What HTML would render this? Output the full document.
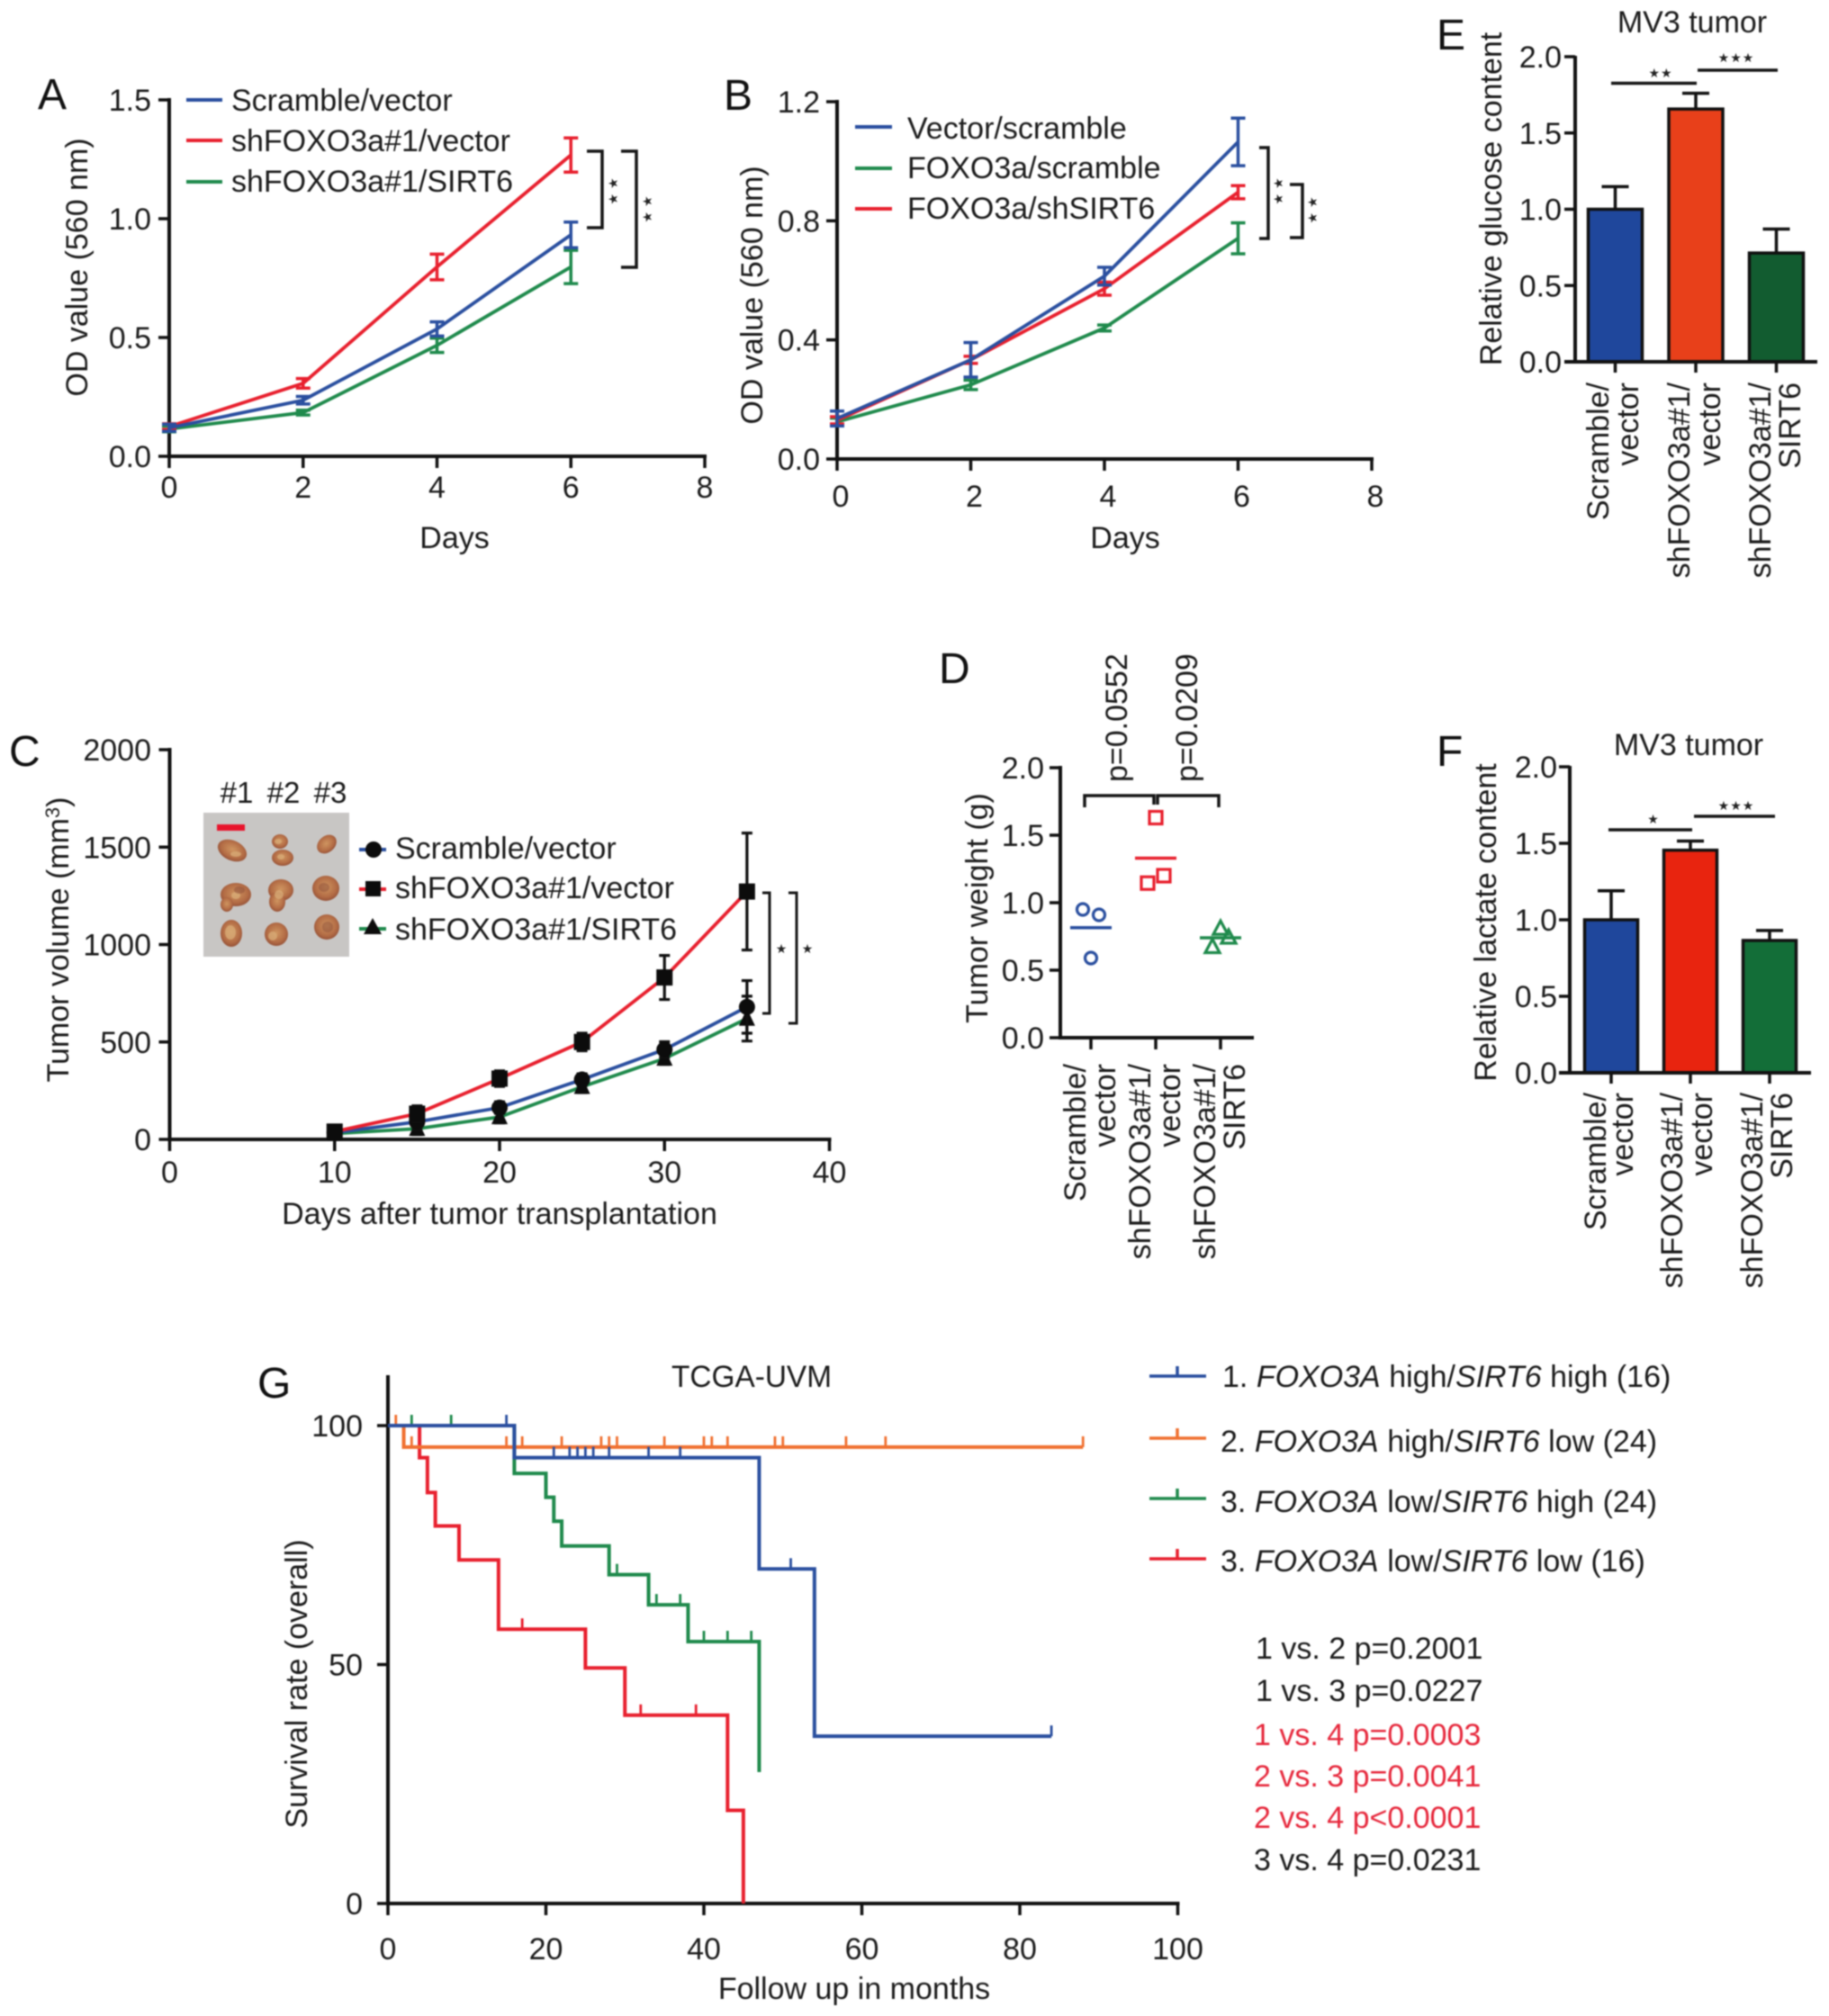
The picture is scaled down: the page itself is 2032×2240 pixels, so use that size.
<!DOCTYPE html>
<html lang="en">
<head>
<meta charset="utf-8">
<title>Tumor growth and survival figure</title>
<style>
html,body{margin:0;padding:0;background:#fff;}
svg{display:block;filter:blur(0.8px);}
text{font-family:"Liberation Sans",sans-serif;font-size:34px;fill:#1c1c1c;}
.panel{font-size:48px;fill:#111;}
.star{font-family:"DejaVu Sans","Liberation Sans",sans-serif;font-size:14px;fill:#222;}
.wide{letter-spacing:5px;}
.tight{letter-spacing:1px;}
.bk{fill:none;stroke:#151515;stroke-width:3.5;}
.rd{fill:#e6283c;}
</style>
</head>
<body>
<svg id="figure" xmlns="http://www.w3.org/2000/svg" width="2032" height="2240" viewBox="0 0 2032 2240">
<defs>
<radialGradient id="tumorFill" cx="50%" cy="45%" r="60%">
<stop offset="0%" stop-color="#cf9560"/>
<stop offset="65%" stop-color="#b36c45"/>
<stop offset="100%" stop-color="#8e4b35"/>
</radialGradient>
</defs>
<rect width="2032" height="2240" fill="#fff"/>

<!-- Panel A static -->
<text class="panel" x="42" y="121">A</text>
<text transform="translate(97,297) rotate(-90)" text-anchor="middle">OD value (560 nm)</text>
<text x="505" y="609" text-anchor="middle">Days</text>
<line x1="207" x2="247" y1="111" y2="111" stroke="#2a4f9f" stroke-width="4"/>
<line x1="207" x2="247" y1="156" y2="156" stroke="#e8202e" stroke-width="4"/>
<line x1="207" x2="247" y1="202" y2="202" stroke="#1f8a4c" stroke-width="4"/>
<text x="257" y="123">Scramble/vector</text>
<text x="257" y="168">shFOXO3a#1/vector</text>
<text x="257" y="213">shFOXO3a#1/SIRT6</text>
<path class="bk" d="M652 168H669V253H652"/>
<path class="bk" d="M690 168H707V297H690"/>
<text class="star wide" transform="translate(686,210) rotate(-90)" text-anchor="middle">★★</text>
<text class="star wide" transform="translate(724,230) rotate(-90)" text-anchor="middle">★★</text>

<!-- Panel B static -->
<text class="panel" x="804" y="122">B</text>
<text transform="translate(847,328) rotate(-90)" text-anchor="middle">OD value (560 nm)</text>
<text x="1250" y="609" text-anchor="middle">Days</text>
<line x1="950" x2="991" y1="141" y2="141" stroke="#2a4f9f" stroke-width="4"/>
<line x1="950" x2="991" y1="187" y2="187" stroke="#1f8a4c" stroke-width="4"/>
<line x1="950" x2="991" y1="232" y2="232" stroke="#e8202e" stroke-width="4"/>
<text x="1008" y="154">Vector/scramble</text>
<text x="1008" y="198">FOXO3a/scramble</text>
<text x="1008" y="243">FOXO3a/shSIRT6</text>
<path class="bk" d="M1399 164H1409V265H1399"/>
<path class="bk" d="M1433 205H1447V264H1433"/>
<text class="star wide" transform="translate(1425,210) rotate(-90)" text-anchor="middle">★★</text>
<text class="star wide" transform="translate(1463,231) rotate(-90)" text-anchor="middle">★★</text>

<!-- Panel C static -->
<text class="panel" x="10" y="851">C</text>
<text transform="translate(76,1044) rotate(-90)" text-anchor="middle">Tumor volume (mm<tspan dy="-10" font-size="22">3</tspan><tspan dy="10">)</tspan></text>
<text x="555" y="1360" text-anchor="middle">Days after tumor transplantation</text>
<g>
<rect x="226" y="903" width="162" height="160" fill="#c8c6c4"/>
<rect x="241" y="916" width="31" height="7" fill="#e8142c"/>
<g fill="url(#tumorFill)">
<ellipse cx="258" cy="945" rx="17" ry="11" transform="rotate(25 258 945)"/>
<ellipse cx="311" cy="935" rx="9" ry="8"/>
<ellipse cx="314" cy="953" rx="12" ry="9"/>
<ellipse cx="363" cy="938" rx="12" ry="9" transform="rotate(-40 363 938)"/>
<ellipse cx="262" cy="994" rx="17" ry="13"/>
<ellipse cx="252" cy="1005" rx="7" ry="8"/>
<ellipse cx="312" cy="989" rx="14" ry="12"/>
<ellipse cx="308" cy="1002" rx="9" ry="11"/>
<ellipse cx="362" cy="987" rx="15" ry="14"/>
<ellipse cx="257" cy="1037" rx="12" ry="15"/>
<ellipse cx="307" cy="1038" rx="13" ry="13"/>
<ellipse cx="363" cy="1030" rx="14" ry="14"/>
</g>
<g fill="#d9ad78" opacity="0.75">
<ellipse cx="262" cy="949" rx="6" ry="3"/>
<ellipse cx="309" cy="935" rx="4" ry="3"/>
<ellipse cx="312" cy="952" rx="4" ry="3"/>
<ellipse cx="262" cy="995" rx="5" ry="4"/>
<ellipse cx="310" cy="994" rx="5" ry="5"/>
<ellipse cx="256" cy="1036" rx="6" ry="8"/>
<ellipse cx="303" cy="1040" rx="5" ry="5"/>
</g>
<g fill="#8e4f3a" opacity="0.5">
<ellipse cx="360" cy="986" rx="6" ry="5"/>
<ellipse cx="364" cy="1030" rx="6" ry="6"/>
<ellipse cx="266" cy="989" rx="6" ry="4"/>
</g>
</g>
<text x="263" y="892" text-anchor="middle" style="font-size:33px">#1</text>
<text x="315" y="892" text-anchor="middle" style="font-size:33px">#2</text>
<text x="367" y="892" text-anchor="middle" style="font-size:33px">#3</text>
<line x1="399" x2="429" y1="944" y2="944" stroke="#2a4f9f" stroke-width="4"/>
<circle cx="415" cy="944" r="9" fill="#0c0c0c"/>
<line x1="399" x2="429" y1="988" y2="988" stroke="#e8202e" stroke-width="4"/>
<rect x="406" y="979" width="17" height="17" fill="#0c0c0c"/>
<line x1="399" x2="429" y1="1032" y2="1032" stroke="#1f8a4c" stroke-width="4"/>
<polygon points="414,1020 424,1038 404,1038" fill="#0c0c0c"/>
<text x="439" y="954">Scramble/vector</text>
<text x="439" y="998">shFOXO3a#1/vector</text>
<text x="439" y="1044">shFOXO3a#1/SIRT6</text>
<path class="bk" style="stroke-width:3" d="M847 992H855V1126H847"/>
<path class="bk" style="stroke-width:3" d="M876 992H885V1137H876"/>
<text class="star" x="868" y="1059" text-anchor="middle">★</text>
<text class="star" x="897" y="1059" text-anchor="middle">★</text>

<!-- Panel D static -->
<text class="panel" x="1043" y="759">D</text>
<text transform="translate(1097,1009) rotate(-90)" text-anchor="middle">Tumor weight (g)</text>
<text transform="translate(1252,869) rotate(-90)">p=0.0552</text>
<text transform="translate(1330,869) rotate(-90)">p=0.0209</text>
<path class="bk" d="M1205 897V884H1282V894"/>
<path class="bk" d="M1286 894V884H1354V897"/>
<g>
<text transform="translate(1206,1182) rotate(-90)" text-anchor="end">Scramble/</text>
<text transform="translate(1239,1182) rotate(-90)" text-anchor="end">vector</text>
<text transform="translate(1278,1182) rotate(-90)" text-anchor="end">shFOXO3a#1/</text>
<text transform="translate(1311,1182) rotate(-90)" text-anchor="end">vector</text>
<text transform="translate(1350,1182) rotate(-90)" text-anchor="end">shFOXO3a#1/</text>
<text transform="translate(1383,1182) rotate(-90)" text-anchor="end">SIRT6</text>
</g>

<!-- Panel E static -->
<text class="panel" x="1596" y="55">E</text>
<text x="1880" y="36" text-anchor="middle">MV3 tumor</text>
<text transform="translate(1668,221) rotate(-90)" text-anchor="middle">Relative glucose content</text>
<line x1="1790" x2="1885" y1="92.5" y2="92.5" stroke="#151515" stroke-width="3.5"/>
<line x1="1886" x2="1975" y1="78" y2="78" stroke="#151515" stroke-width="3.5"/>
<text class="star tight" x="1845" y="86" text-anchor="middle">★★</text>
<text class="star tight" x="1929" y="69" text-anchor="middle">★★★</text>
<g>
<text transform="translate(1787,425) rotate(-90)" text-anchor="end">Scramble/</text>
<text transform="translate(1820,425) rotate(-90)" text-anchor="end">vector</text>
<text transform="translate(1877,425) rotate(-90)" text-anchor="end">shFOXO3a#1/</text>
<text transform="translate(1911,425) rotate(-90)" text-anchor="end">vector</text>
<text transform="translate(1967,425) rotate(-90)" text-anchor="end">shFOXO3a#1/</text>
<text transform="translate(2000,425) rotate(-90)" text-anchor="end">SIRT6</text>
</g>

<!-- Panel F static -->
<text class="panel" x="1596" y="851">F</text>
<text x="1876" y="839" text-anchor="middle">MV3 tumor</text>
<text transform="translate(1662,1025) rotate(-90)" text-anchor="middle">Relative lactate content</text>
<line x1="1787" x2="1880" y1="922" y2="922" stroke="#151515" stroke-width="3.5"/>
<line x1="1882" x2="1972" y1="907" y2="907" stroke="#151515" stroke-width="3.5"/>
<text class="star tight" x="1837" y="915" text-anchor="middle">★</text>
<text class="star tight" x="1929" y="900" text-anchor="middle">★★★</text>
<g>
<text transform="translate(1784,1214) rotate(-90)" text-anchor="end">Scramble/</text>
<text transform="translate(1814,1214) rotate(-90)" text-anchor="end">vector</text>
<text transform="translate(1869,1214) rotate(-90)" text-anchor="end">shFOXO3a#1/</text>
<text transform="translate(1902,1214) rotate(-90)" text-anchor="end">vector</text>
<text transform="translate(1958,1214) rotate(-90)" text-anchor="end">shFOXO3a#1/</text>
<text transform="translate(1991,1214) rotate(-90)" text-anchor="end">SIRT6</text>
</g>

<!-- Panel G static -->
<text class="panel" x="286" y="1553">G</text>
<text x="835" y="1541" text-anchor="middle" textLength="178" lengthAdjust="spacingAndGlyphs">TCGA-UVM</text>
<text transform="translate(341,1871) rotate(-90)" text-anchor="middle">Survival rate (overall)</text>
<text x="949" y="2221" text-anchor="middle">Follow up in months</text>
<g>
<path d="M1277 1529H1340M1308 1529V1518" fill="none" stroke="#2a4f9f" stroke-width="3.5"/>
<text x="1358" y="1541">1. <tspan font-style="italic">FOXO3A</tspan> high/<tspan font-style="italic">SIRT6</tspan> high (16)</text>
</g>
<g>
<path d="M1277 1598H1340M1308 1598V1587" fill="none" stroke="#f07030" stroke-width="3.5"/>
<text x="1356" y="1613">2. <tspan font-style="italic">FOXO3A</tspan> high/<tspan font-style="italic">SIRT6</tspan> low (24)</text>
</g>
<g>
<path d="M1277 1665H1340M1308 1665V1654" fill="none" stroke="#1f8a4c" stroke-width="3.5"/>
<text x="1356" y="1680">3. <tspan font-style="italic">FOXO3A</tspan> low/<tspan font-style="italic">SIRT6</tspan> high (24)</text>
</g>
<g>
<path d="M1277 1732H1340M1308 1732V1721" fill="none" stroke="#e8202e" stroke-width="3.5"/>
<text x="1356" y="1746">3. <tspan font-style="italic">FOXO3A</tspan> low/<tspan font-style="italic">SIRT6</tspan> low (16)</text>
</g>
<text x="1395" y="1843">1 vs. 2 p=0.2001</text>
<text x="1395" y="1890">1 vs. 3 p=0.0227</text>
<text class="rd" x="1393" y="1939">1 vs. 4 p=0.0003</text>
<text class="rd" x="1393" y="1985">2 vs. 3 p=0.0041</text>
<text class="rd" x="1393" y="2031">2 vs. 4 p&lt;0.0001</text>
<text x="1393" y="2078">3 vs. 4 p=0.0231</text>
</svg>

<script>
// ---------- Panel A ----------
const aDays = [0, 2, 4, 6];
const aXTickLabels = ['0', '2', '4', '6', '8'];
const aYTickLabels = ['0.0', '0.5', '1.0', '1.5'];
const aBlue = [0.12, 0.236, 0.536, 0.932];
const aBlueErr = [0.015, 0.016, 0.03, 0.054];
const aRed = [0.125, 0.307, 0.797, 1.268];
const aRedErr = [0.012, 0.02, 0.054, 0.072];
const aGreen = [0.115, 0.184, 0.467, 0.797];
const aGreenErr = [0.012, 0.01, 0.03, 0.07];

// ---------- Panel B ----------
const bDays = [0, 2, 4, 6];
const bXTickLabels = ['0', '2', '4', '6', '8'];
const bYTickLabels = ['0.0', '0.4', '0.8', '1.2'];
const bBlue = [0.136, 0.333, 0.614, 1.065];
const bBlueErr = [0.025, 0.058, 0.03, 0.08];
const bRed = [0.13, 0.333, 0.572, 0.896];
const bRedErr = [0.012, 0.012, 0.022, 0.022];
const bGreen = [0.125, 0.249, 0.44, 0.741];
const bGreenErr = [0.012, 0.016, 0.01, 0.052];

// ---------- Panel C ----------
const cDays = [10, 15, 20, 25, 30, 35];
const cXTickLabels = ['0', '10', '20', '30', '40'];
const cYTickLabels = ['0', '500', '1000', '1500', '2000'];
const cBlue = [35, 90, 163, 307, 461, 680];
const cBlueErr = [20, 40, 30, 30, 40, 135];
const cRed = [40, 132, 312, 500, 831, 1272];
const cRedErr = [20, 40, 40, 45, 113, 300];
const cGreen = [30, 55, 115, 270, 415, 620];
const cGreenErr = [15, 30, 30, 30, 30, 115];

// ---------- Panel D ----------
const dYTickLabels = ['0.0', '0.5', '1.0', '1.5', '2.0'];
const dCircles = [0.59, 0.95, 0.91];
const dSquares = [1.63, 1.145, 1.2];
const dTriangles = [0.806, 0.67, 0.74];
const dMeans = [0.815, 1.33, 0.74];

// ---------- Panel E ----------
const eYTickLabels = ['0.0', '0.5', '1.0', '1.5', '2.0'];
const eBars = [1.0, 1.657, 0.713];
const eErrTop = [1.148, 1.76, 0.87];

// ---------- Panel F ----------
const fYTickLabels = ['0.0', '0.5', '1.0', '1.5', '2.0'];
const fBars = [1.0, 1.455, 0.865];
const fErrTop = [1.19, 1.515, 0.93];

// ---------- Panel G ----------
const gXTickLabels = ['0', '20', '40', '60', '80', '100'];
const gYTickLabels = ['0', '50', '100'];
const kmBlueTime = [0, 16, 47, 54, 84];
const kmBlueSurv = [100, 93.3, 70, 35, 35];
const kmBlueCensor = [15, 21, 23, 24, 25, 26, 28, 33, 37, 51, 84];
const kmOrangeTime = [0, 2, 88];
const kmOrangeSurv = [100, 95.5, 95.5];
const kmOrangeCensor = [1, 3, 15, 17, 22, 27, 28, 29, 35, 40, 41, 43, 49, 50, 58, 63, 88];
const kmGreenTime = [0, 16, 20, 21, 22, 28, 33, 38, 47, 47];
const kmGreenSurv = [100, 90, 85, 80, 74.8, 68.8, 62.5, 54.8, 54.8, 27.5];
const kmGreenCensor = [3, 8, 29, 34, 37, 40, 43, 46];
const kmRedTime = [0, 4, 5, 6, 9, 14, 25, 30, 43, 45, 45];
const kmRedSurv = [100, 93.3, 86, 79, 71.9, 57.4, 49.3, 39.4, 19.5, 19.5, 0];
const kmRedCensor = [17, 32, 39];

const BLUE = '#2a4f9f', RED = '#e8202e', GREEN = '#1f8a4c', ORANGE = '#f07030', INK = '#111';
const svg = document.getElementById('figure');
const NS = 'http://www.w3.org/2000/svg';

function linear(d0, d1, r0, r1) {
  return function (v) { return r0 + (v - d0) * (r1 - r0) / (d1 - d0); };
}
function make(tag, attrs, parent, label) {
  const el = document.createElementNS(NS, tag);
  for (const k in attrs) el.setAttribute(k, attrs[k]);
  
  
  parent.appendChild(el);
  return el;
}
function drawYAxis(g, p, x, top, y, labels, labelRight, dy) {
  make('line', {x1: x, x2: x, y1: y(Number(labels[0])) + 2, y2: top, stroke: INK, 'stroke-width': 4}, g, p + '-y-axis-line');
  labels.forEach(function (lab) {
    const yy = y(Number(lab));
    make('line', {x1: x - 12, x2: x, y1: yy, y2: yy, stroke: INK, 'stroke-width': 3.5}, g, p + '-y-tick');
    const t = make('text', {x: labelRight, y: yy + dy, 'text-anchor': 'end'}, g, p + '-y-tick-label');
    t.textContent = lab;
  });
}
function drawXAxis(g, p, x, y0, labels, baseline, labelDx) {
  const vals = labels.map(Number);
  make('line', {x1: x(vals[0]) - 2, x2: x(vals[vals.length - 1]) + 2, y1: y0, y2: y0, stroke: INK, 'stroke-width': 4}, g, p + '-x-axis-line');
  labels.forEach(function (lab, i) {
    const xx = x(vals[i]);
    make('line', {x1: xx, x2: xx, y1: y0, y2: y0 + 13, stroke: INK, 'stroke-width': 3.5}, g, p + '-x-tick');
    const t = make('text', {x: xx + labelDx, y: baseline, 'text-anchor': 'middle'}, g, p + '-x-tick-label');
    t.textContent = lab;
  });
}
function drawLine(g, name, color, xs, ys, x, y, width) {
  const pts = xs.map(function (v, i) { return x(v) + ',' + y(ys[i]); }).join(' ');
  make('polyline', {points: pts, fill: 'none', stroke: color, 'stroke-width': width}, g, name);
}
function drawErrors(g, name, color, xs, ys, errs, x, y, width, cap) {
  xs.forEach(function (v, i) {
    const xx = x(v), hi = y(ys[i] + errs[i]), lo = y(ys[i] - errs[i]);
    const d = 'M' + xx + ' ' + hi + 'V' + lo + 'M' + (xx - cap) + ' ' + hi + 'H' + (xx + cap) + 'M' + (xx - cap) + ' ' + lo + 'H' + (xx + cap);
    make('path', {d: d, fill: 'none', stroke: color, 'stroke-width': width}, g, name);
  });
}
function drawMarker(g, name, kind, cx, cy) {
  if (kind === 'circle') make('circle', {cx: cx, cy: cy, r: 9, fill: '#0c0c0c'}, g, name);
  else if (kind === 'square') make('rect', {x: cx - 9, y: cy - 9, width: 18, height: 18, fill: '#0c0c0c'}, g, name);
  else make('polygon', {points: cx + ',' + (cy - 11) + ' ' + (cx + 9) + ',' + (cy + 8) + ' ' + (cx - 9) + ',' + (cy + 8), fill: '#0c0c0c'}, g, name);
}

// Panel A render
(function () {
  const g = make('g', {}, svg, 'panel-a-chart');
  const x = linear(0, 8, 188, 783), y = linear(0, 1.5, 507, 111);
  drawYAxis(g, 'a', 188, 109, y, aYTickLabels, 168, 12);
  drawXAxis(g, 'a', x, 507, aXTickLabels, 553, 0);
  [[aGreen, aGreenErr, GREEN, 'green'], [aRed, aRedErr, RED, 'red'], [aBlue, aBlueErr, BLUE, 'blue']].forEach(function (s) {
    drawLine(g, 'a-line-' + s[3], s[2], aDays, s[0], x, y, 3.8);
    drawErrors(g, 'a-error-' + s[3], s[2], aDays, s[0], s[1], x, y, 3.5, 8);
  });
})();

// Panel B render
(function () {
  const g = make('g', {}, svg, 'panel-b-chart');
  const x = linear(0, 8, 930, 1524), y = linear(0, 1.2, 510, 113);
  drawYAxis(g, 'b', 930, 111, y, bYTickLabels, 911, 12);
  drawXAxis(g, 'b', x, 510, bXTickLabels, 563, 4);
  [[bGreen, bGreenErr, GREEN, 'green'], [bRed, bRedErr, RED, 'red'], [bBlue, bBlueErr, BLUE, 'blue']].forEach(function (s) {
    drawLine(g, 'b-line-' + s[3], s[2], bDays, s[0], x, y, 3.8);
    drawErrors(g, 'b-error-' + s[3], s[2], bDays, s[0], s[1], x, y, 3.5, 8);
  });
})();

// Panel C render
(function () {
  const g = make('g', {}, svg, 'panel-c-chart');
  const x = linear(0, 40, 188.5, 921.5), y = linear(0, 2000, 1266, 833);
  drawYAxis(g, 'c', 188.5, 831, y, cYTickLabels, 168, 12);
  drawXAxis(g, 'c', x, 1266, cXTickLabels, 1314, 0);
  [[cGreen, cGreenErr, GREEN, 'green', 'triangle'], [cBlue, cBlueErr, BLUE, 'blue', 'circle'], [cRed, cRedErr, RED, 'red', 'square']].forEach(function (s) {
    drawLine(g, 'c-line-' + s[3], s[2], cDays, s[0], x, y, 3.8);
    drawErrors(g, 'c-error-' + s[3], '#111', cDays, s[0], s[1], x, y, 3.2, 6);
    cDays.forEach(function (d, i) { drawMarker(g, 'c-point-' + s[3], s[4], x(d), y(s[0][i])); });
  });
})();

// Panel D render
(function () {
  const g = make('g', {}, svg, 'panel-d-chart');
  const y = linear(0, 2, 1153, 853);
  const cat = linear(0, 2, 1212, 1356);
  const spread = [0, -9, 9];
  drawYAxis(g, 'd', 1178, 851, y, dYTickLabels, 1160, 12);
  make('line', {x1: 1176, x2: 1393, y1: 1153, y2: 1153, stroke: INK, 'stroke-width': 4}, g, 'd-x-axis-line');
  [0, 1, 2].forEach(function (i) {
    make('line', {x1: cat(i), x2: cat(i), y1: 1153, y2: 1166, stroke: INK, 'stroke-width': 3.5}, g, 'd-x-tick');
  });
  dCircles.forEach(function (v, i) {
    make('circle', {cx: cat(0) + spread[i], cy: y(v), r: 6.5, fill: 'none', stroke: BLUE, 'stroke-width': 3.2}, g, 'd-point-scramble');
  });
  dSquares.forEach(function (v, i) {
    make('rect', {x: cat(1) + spread[i] - 7, y: y(v) - 7, width: 14, height: 14, fill: 'none', stroke: RED, 'stroke-width': 3.2}, g, 'd-point-shfoxo3a');
  });
  dTriangles.forEach(function (v, i) {
    const cx = cat(2) + spread[i], cy = y(v);
    make('polygon', {points: cx + ',' + (cy - 9) + ' ' + (cx + 8) + ',' + (cy + 6) + ' ' + (cx - 8) + ',' + (cy + 6), fill: 'none', stroke: GREEN, 'stroke-width': 3.2}, g, 'd-point-sirt6');
  });
  const cols = [BLUE, RED, GREEN];
  dMeans.forEach(function (v, i) {
    make('line', {x1: cat(i) - 23, x2: cat(i) + 23, y1: y(v), y2: y(v), stroke: cols[i], 'stroke-width': 3.5}, g, 'd-mean-line');
  });
})();

// Bar panels
function drawBars(p, vals, tops, cols, labels, y, yTop, axisX, labelRight, first, step, bw, xEnd, y0) {
  const g = make('g', {}, svg, 'panel-' + p + '-chart');
  drawYAxis(g, p, axisX, yTop, y, labels, labelRight, 12);
  vals.forEach(function (v, i) {
    const cx = first + i * step;
    make('path', {d: 'M' + cx + ' ' + y(v) + 'V' + y(tops[i]) + 'M' + (cx - 15) + ' ' + y(tops[i]) + 'H' + (cx + 15), fill: 'none', stroke: '#111', 'stroke-width': 3.5}, g, p + '-error-bar');
    make('rect', {x: cx - bw / 2, y: y(v), width: bw, height: y0 - y(v), fill: cols[i], stroke: '#111', 'stroke-width': 3.5}, g, p + '-bar');
    make('line', {x1: cx, x2: cx, y1: y0, y2: y0 + 12, stroke: INK, 'stroke-width': 3.5}, g, p + '-x-tick');
  });
  make('line', {x1: axisX - 12, x2: xEnd, y1: y0, y2: y0, stroke: INK, 'stroke-width': 4}, g, p + '-x-axis-line');
}
drawBars('e', eBars, eErrTop, ['#1f479c', '#e8401a', '#125c30'], eYTickLabels, linear(0, 2, 402, 63), 62, 1750, 1735, 1794.5, 89.5, 60, 2019, 402);
drawBars('f', fBars, fErrTop, ['#1f479c', '#e8240f', '#136e38'], fYTickLabels, linear(0, 2, 1192, 852), 851, 1744, 1730, 1790, 88, 59, 2012, 1192);

// Panel G render
(function () {
  const g = make('g', {}, svg, 'panel-g-chart');
  const x = linear(0, 100, 431, 1308.5), y = linear(0, 100, 2115, 1584);
  drawYAxis(g, 'g', 431, 1528, y, gYTickLabels, 403, 12);
  drawXAxis(g, 'g', x, 2115, gXTickLabels, 2177, 0);
  function surv(times, survs, t) {
    let s = survs[0];
    times.forEach(function (tt, i) { if (tt <= t) s = survs[i]; });
    return s;
  }
  function km(name, color, times, survs, censor) {
    let d = 'M' + x(times[0]) + ' ' + y(survs[0]);
    for (let i = 1; i < times.length; i++) d += 'H' + x(times[i]) + 'V' + y(survs[i]);
    make('path', {d: d, fill: 'none', stroke: color, 'stroke-width': 4}, g, 'g-curve-' + name);
    censor.forEach(function (t) {
      const yy = y(surv(times, survs, t));
      make('line', {x1: x(t), x2: x(t), y1: yy, y2: yy - 12, stroke: color, 'stroke-width': 2.8}, g, 'g-censor-' + name);
    });
  }
  km('green', GREEN, kmGreenTime, kmGreenSurv, kmGreenCensor);
  km('red', RED, kmRedTime, kmRedSurv, kmRedCensor);
  km('orange', ORANGE, kmOrangeTime, kmOrangeSurv, kmOrangeCensor);
  km('blue', BLUE, kmBlueTime, kmBlueSurv, kmBlueCensor);
})();
</script>
</body>
</html>
